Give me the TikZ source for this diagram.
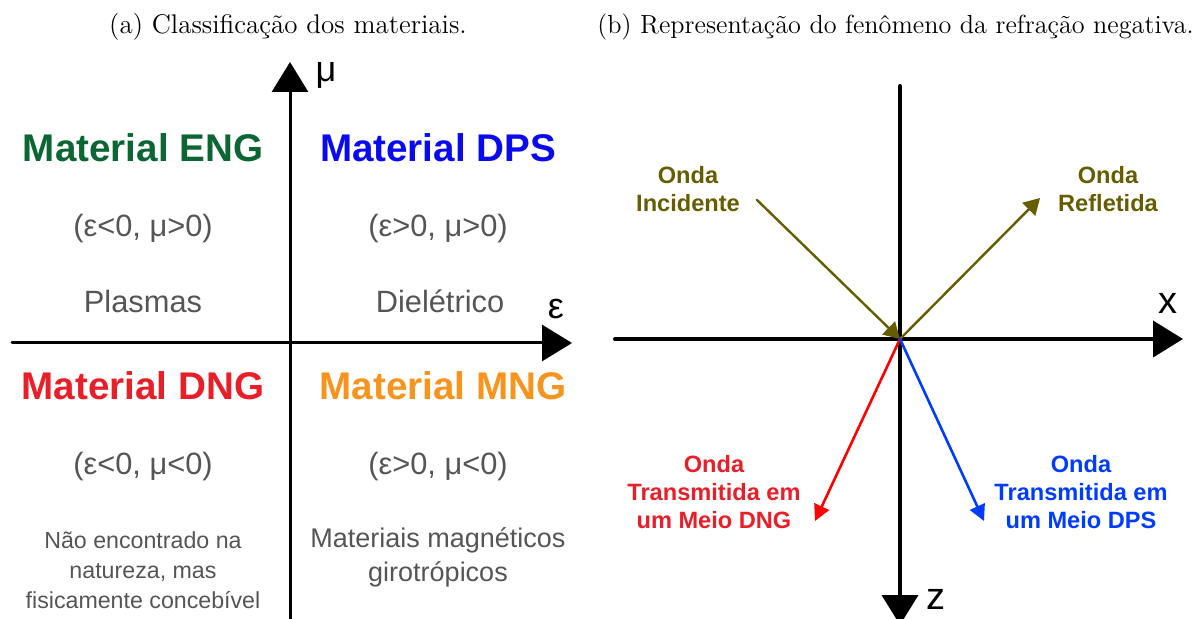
\documentclass[tikz,border=0pt]{standalone}
\usepackage{fontspec}
\newfontfamily\arial{Liberation Sans}
\usetikzlibrary{arrows.meta}
\definecolor{engcolor}{RGB}{12,102,52}
\definecolor{dpscolor}{RGB}{10,10,240}
\definecolor{dngcolor}{RGB}{232,30,40}
\definecolor{mngcolor}{RGB}{247,148,30}
\definecolor{txtgray}{RGB}{85,85,85}
\definecolor{ondaolive}{RGB}{102,92,0}
\definecolor{ondablue}{RGB}{0,60,255}
\begin{document}
\begin{tikzpicture}[x=0.5pt, y=-0.5pt, line cap=round, line join=round]
	\tikzset{mat style/.style={font=\arial\bfseries\fontsize{19.3}{23}\selectfont},
		val style/.style={font=\arial\fontsize{15.4}{18}\selectfont, text=txtgray, align=center},
		onda style/.style={font=\arial\bfseries\fontsize{11.8}{14}\selectfont, align=center},
		axis style/.style={line width=1.5pt, -{Triangle[length=15pt,width=18pt]}},
		sym style/.style={font=\arial\fontsize{18}{20}\selectfont},
		cap style/.style={font=\fontsize{13.5}{16}\selectfont, inner sep=0pt}}
	\useasboundingbox (0,0) rectangle (1198,619);
	% (a) classificacao
	\node[cap style] (capA) at (288,27) {(a) Classificação dos materiais.};
	\draw[axis style] (290,619) -- (290,62);
	\draw[axis style] (12,343) -- (572,343);
	\node[sym style] (mu) at (326,75) {μ};
	\node[sym style] (eps) at (556,309) {ε};
	\node[mat style, text=engcolor] (eng) at (143,148) {Material ENG};
	\node[mat style, text=dpscolor] (dps) at (438,148) {Material DPS};
	\node[mat style, text=dngcolor] (dng) at (143,386) {Material DNG};
	\node[mat style, text=mngcolor] (mng) at (443,386) {Material MNG};
	\node[val style] (engval) at (143,229) {(ε<0, μ>0)};
	\node[val style] (dpsval) at (438,229) {(ε>0, μ>0)};
	\node[val style] (dngval) at (143,467) {(ε<0, μ<0)};
	\node[val style] (mngval) at (438,467) {(ε>0, μ<0)};
	\node[val style] (plasma) at (143,301) {Plasmas};
	\node[val style] (dieletrico) at (440,301) {Dielétrico};
	\node[val style, font=\arial\fontsize{11.6}{15}\selectfont] (natureza) at (143,570) {Não encontrado na\\natureza, mas\\fisicamente concebível};
	\node[val style, font=\arial\fontsize{13.5}{17}\selectfont] (girotrop) at (438,557) {Materiais magnéticos\\girotrópicos};
	% (b) refracao negativa
	\node[cap style, font=\fontsize{13.1}{16}\selectfont, anchor=west] (capB) at (597,27) {(b) Representação do fenômeno da refração negativa.};
	\draw[axis style, line width=2pt] (615,339) -- (1183,339);
	\draw[axis style, line width=2pt] (900,86) -- (900,625);
	\node[sym style, font=\arial\fontsize{19}{20}\selectfont] (xlab) at (1168,303) {x};
	\node[sym style, font=\arial\fontsize{19}{20}\selectfont] (zlab) at (936,599) {z};
	\coordinate (O) at (900,339);
	\node[onda style, text=ondaolive] (inc) at (688,189) {Onda\\Incidente};
	\node[onda style, text=ondaolive] (refl) at (1108,189) {Onda\\Refletida};
	\node[onda style, text=dngcolor] (tdng) at (714,492) {Onda\\Transmitida em\\um Meio DNG};
	\node[onda style, text=ondablue] (tdps) at (1081,492) {Onda\\Transmitida em\\um Meio DPS};
	\coordinate (incstart) at (757,200);
	\coordinate (reflend) at (1040,198);
	\coordinate (dngend) at (815,521);
	\coordinate (dpsend) at (984,521);
	\draw[ondaolive, line width=1.2pt, -{Triangle[length=8pt,width=9pt]}] (incstart) -- (O);
	\draw[ondaolive, line width=1.2pt, -{Triangle[length=8pt,width=9pt]}] (O) -- (reflend);
	\draw[red, line width=1.3pt, -{Triangle[length=8pt,width=8pt]}] (O) -- (dngend);
	\draw[ondablue, line width=1.3pt, -{Triangle[length=8pt,width=8pt]}] (O) -- (dpsend);
\end{tikzpicture}
\end{document}
